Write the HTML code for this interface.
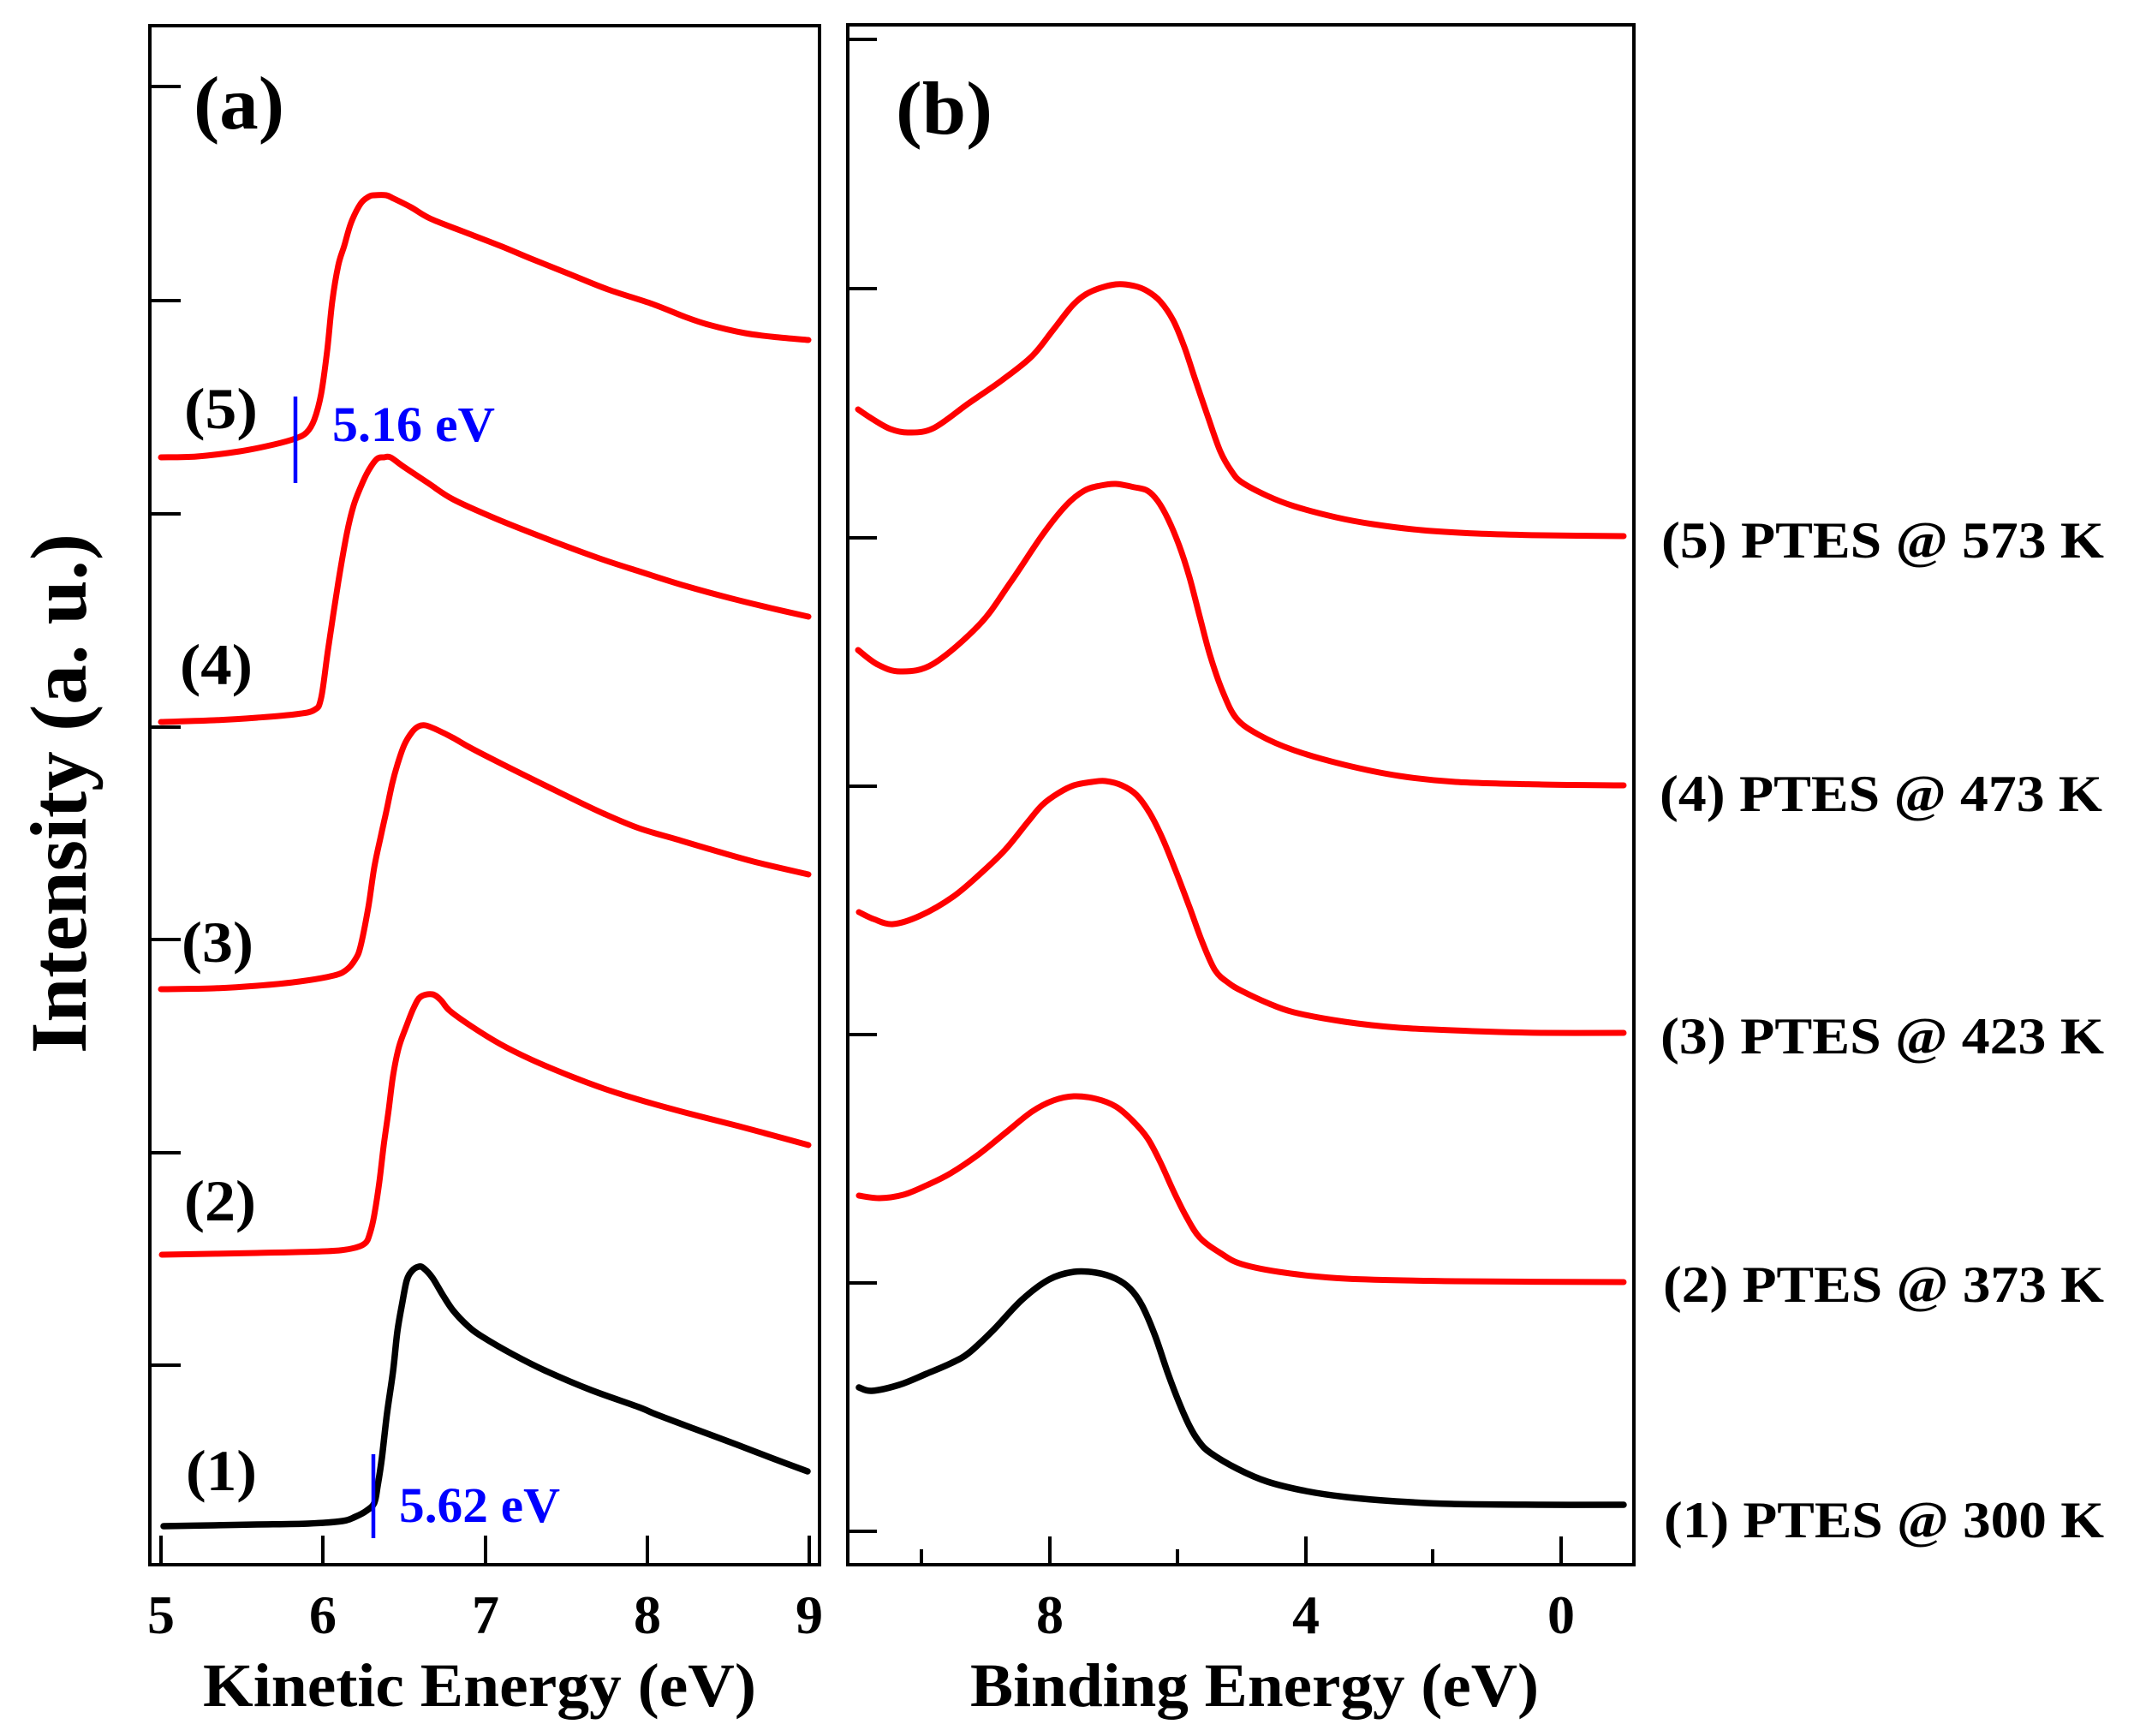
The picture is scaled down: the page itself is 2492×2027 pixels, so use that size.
<!DOCTYPE html>
<html>
<head>
<meta charset="utf-8">
<style>
  html,body{margin:0;padding:0;background:#fff;}
  svg{display:block;}
  text{font-family:"Liberation Serif","Times New Roman",serif;font-weight:bold;}
</style>
</head>
<body>
<svg id="chart" width="2492" height="2027" viewBox="0 0 2492 2027" xmlns="http://www.w3.org/2000/svg">
<rect width="2492" height="2027" fill="#fff"/>

<!-- Panel frames -->
<rect x="175" y="30" width="782" height="1797" fill="none" stroke="#000" stroke-width="4"/>
<rect x="990" y="29" width="918" height="1798" fill="none" stroke="#000" stroke-width="4"/>

<g stroke="#000" stroke-width="4">
  <line x1="175" y1="101" x2="211" y2="101"/>
  <line x1="175" y1="351" x2="211" y2="351"/>
  <line x1="175" y1="600" x2="211" y2="600"/>
  <line x1="175" y1="849" x2="211" y2="849"/>
  <line x1="175" y1="1097" x2="211" y2="1097"/>
  <line x1="175" y1="1346" x2="211" y2="1346"/>
  <line x1="175" y1="1594" x2="211" y2="1594"/>
  <line x1="188" y1="1827" x2="188" y2="1793"/>
  <line x1="377" y1="1827" x2="377" y2="1793"/>
  <line x1="567" y1="1827" x2="567" y2="1793"/>
  <line x1="756" y1="1827" x2="756" y2="1793"/>
  <line x1="945" y1="1827" x2="945" y2="1793"/>
  <line x1="990" y1="46" x2="1024" y2="46"/>
  <line x1="990" y1="337" x2="1024" y2="337"/>
  <line x1="990" y1="628" x2="1024" y2="628"/>
  <line x1="990" y1="918" x2="1024" y2="918"/>
  <line x1="990" y1="1208" x2="1024" y2="1208"/>
  <line x1="990" y1="1498" x2="1024" y2="1498"/>
  <line x1="990" y1="1788" x2="1024" y2="1788"/>
  <line x1="1226" y1="1827" x2="1226" y2="1794"/>
  <line x1="1525" y1="1827" x2="1525" y2="1794"/>
  <line x1="1823" y1="1827" x2="1823" y2="1794"/>
  <line x1="1076" y1="1827" x2="1076" y2="1809"/>
  <line x1="1375" y1="1827" x2="1375" y2="1809"/>
  <line x1="1673" y1="1827" x2="1673" y2="1809"/>
</g>

<g fill="none" stroke-width="7" stroke-linejoin="round" stroke-linecap="round">
<polyline class="s" stroke="#ff0000" points="188,534 230,533 280,527 320,519 345,512 358,505 367,490 375,460 382,410 388,352 395,310 402,287 410,260 421,238 430,230 437,228 451,228 460,232 480,242 502,255 540,270 584,287 620,302 665,320 710,338 762,355 800,370 827,379 870,389 910,394 944,397"/>
<polyline class="s" stroke="#ff0000" points="188,843 250,841 300,838 345,834 367,829 375,815 383,759 395,680 405,623 413,590 421,569 430,550 440,536 448,534 456,534 470,544 500,564 529,583 580,606 638,629 700,652 746,667 800,684 855,699 900,710 944,720"/>
<polyline class="s" stroke="#ff0000" points="188,1155 250,1154 300,1151 350,1146 390,1139 405,1132 415,1120 421,1105 430,1060 437,1013 445,975 451,948 458,915 464,893 472,870 481,855 489,848 497,847 510,852 530,862 551,874 600,899 665,931 705,950 746,967 790,980 827,991 880,1006 944,1021"/>
<polyline class="s" stroke="#ff0000" points="189,1465 300,1463 380,1461 410,1458 426,1452 432,1440 437,1419 443,1380 448,1338 454,1295 459,1256 466,1222 475,1197 483,1177 491,1164 505,1161 515,1168 525,1180 550,1198 584,1219 620,1237 665,1256 705,1271 746,1284 800,1299 855,1313 900,1325 944,1337"/>
<polyline class="s" stroke="#000000" stroke-width="7.5" points="191,1782 250,1781 300,1780 360,1779 400,1776 415,1771 428,1764 437,1755 441,1735 446,1702 452,1650 459,1601 464,1555 470,1520 475,1495 481,1484 489,1479 495,1481 505,1492 517,1512 529,1530 545,1547 562,1560 600,1582 638,1601 690,1623 746,1643 765,1651 810,1668 861,1687 900,1702 943,1718"/>
</g>

<g fill="none" stroke-width="7" stroke-linejoin="round" stroke-linecap="round">
<polyline class="s" stroke="#ff0000" points="1002,478 1020,490 1040,501 1061,505 1090,500 1131,471 1170,444 1205,416 1230,385 1254,355 1275,340 1303,332 1325,334 1340,340 1355,352 1370,374 1383,405 1395,441 1410,485 1425,527 1438,550 1450,563 1480,579 1511,591 1560,604 1603,612 1660,619 1725,623 1800,625 1896,626"/>
<polyline class="s" stroke="#ff0000" points="1002,759 1025,776 1052,784 1090,775 1144,729 1180,680 1217,625 1245,590 1266,573 1285,567 1303,565 1325,569 1340,573 1352,585 1364,606 1377,637 1389,674 1401,720 1413,765 1428,808 1444,839 1470,858 1511,876 1570,893 1634,906 1700,913 1800,916 1896,917"/>
<polyline class="s" stroke="#ff0000" points="1003,1065 1020,1073 1043,1079 1075,1069 1113,1047 1145,1020 1174,992 1200,960 1217,940 1236,926 1254,917 1275,913 1291,912 1310,917 1327,928 1343,950 1358,980 1373,1017 1389,1059 1404,1100 1419,1133 1435,1148 1450,1157 1480,1171 1511,1182 1570,1193 1634,1200 1720,1204 1800,1206 1896,1206"/>
<polyline class="s" stroke="#ff0000" points="1003,1396 1027,1399 1055,1395 1082,1384 1110,1370 1144,1347 1175,1322 1205,1298 1230,1285 1254,1280 1280,1283 1303,1292 1322,1308 1340,1329 1355,1357 1370,1390 1385,1420 1401,1445 1425,1463 1450,1476 1500,1486 1572,1493 1700,1496 1896,1497"/>
<polyline class="s" stroke="#000000" stroke-width="7.5" points="1003,1620 1018,1624 1050,1617 1082,1604 1110,1592 1131,1580 1160,1553 1193,1518 1225,1494 1254,1485 1280,1486 1303,1493 1320,1505 1334,1525 1349,1560 1364,1604 1377,1638 1389,1665 1400,1683 1413,1696 1445,1715 1480,1730 1525,1741 1572,1748 1630,1753 1695,1756 1800,1757 1896,1757"/>
</g>

<g stroke="#0000ff" stroke-width="4.5">
  <line x1="345" y1="463" x2="345" y2="564"/>
  <line x1="436" y1="1698" x2="436" y2="1796"/>
</g>
<text x="388" y="515" font-size="58" fill="#0000ff" textLength="190" lengthAdjust="spacingAndGlyphs">5.16 eV</text>
<text x="466" y="1777" font-size="58" fill="#0000ff" textLength="188" lengthAdjust="spacingAndGlyphs">5.62 eV</text>

<text x="226" y="150" font-size="88" fill="#000" textLength="106" lengthAdjust="spacingAndGlyphs">(a)</text>
<text x="1046" y="156" font-size="88" fill="#000" textLength="113" lengthAdjust="spacingAndGlyphs">(b)</text>

<g font-size="68" fill="#000">
  <text x="215" y="500" textLength="86" lengthAdjust="spacingAndGlyphs">(5)</text>
  <text x="210" y="799" textLength="85" lengthAdjust="spacingAndGlyphs">(4)</text>
  <text x="212" y="1123" textLength="84" lengthAdjust="spacingAndGlyphs">(3)</text>
  <text x="215" y="1425" textLength="84" lengthAdjust="spacingAndGlyphs">(2)</text>
  <text x="217" y="1740" textLength="83" lengthAdjust="spacingAndGlyphs">(1)</text>
</g>

<g font-size="60" fill="#000">
  <text x="1940" y="651" textLength="517" lengthAdjust="spacingAndGlyphs">(5) PTES @ 573 K</text>
  <text x="1938" y="947" textLength="517" lengthAdjust="spacingAndGlyphs">(4) PTES @ 473 K</text>
  <text x="1939" y="1230" textLength="518" lengthAdjust="spacingAndGlyphs">(3) PTES @ 423 K</text>
  <text x="1942" y="1520" textLength="515" lengthAdjust="spacingAndGlyphs">(2) PTES @ 373 K</text>
  <text x="1943" y="1795" textLength="514" lengthAdjust="spacingAndGlyphs">(1) PTES @ 300 K</text>
</g>

<g font-size="64" fill="#000" text-anchor="middle">
  <text x="188" y="1907">5</text>
  <text x="377" y="1907">6</text>
  <text x="567" y="1907">7</text>
  <text x="756" y="1907">8</text>
  <text x="945" y="1907">9</text>
  <text x="1226" y="1907">8</text>
  <text x="1525" y="1907">4</text>
  <text x="1823" y="1907">0</text>
</g>

<text x="237" y="1992" font-size="72" fill="#000" textLength="646" lengthAdjust="spacingAndGlyphs">Kinetic Energy (eV)</text>
<text x="1133" y="1992" font-size="72" fill="#000" textLength="664" lengthAdjust="spacingAndGlyphs">Binding Energy (eV)</text>
<text transform="translate(100,1230) rotate(-90)" x="0" y="0" font-size="93" fill="#000" textLength="607" lengthAdjust="spacingAndGlyphs">Intensity (a. u.)</text>
</svg>
<script>
(function(){
  var NS="http://www.w3.org/2000/svg";
  var pls=document.querySelectorAll("polyline.s");
  for(var k=0;k<pls.length;k++){
    var pl=pls[k];
    var raw=pl.getAttribute("points").trim().split(/\s+/);
    var p=raw.map(function(s){var a=s.split(",");return [parseFloat(a[0]),parseFloat(a[1])];});
    var d="M"+p[0][0]+","+p[0][1];
    for(var i=0;i<p.length-1;i++){
      var p0=p[i>0?i-1:i],p1=p[i],p2=p[i+1],p3=p[i+2<p.length?i+2:i+1];
      var c1x=p1[0]+(p2[0]-p0[0])/6,c1y=p1[1]+(p2[1]-p0[1])/6;
      var c2x=p2[0]-(p3[0]-p1[0])/6,c2y=p2[1]-(p3[1]-p1[1])/6;
      d+=" C"+c1x.toFixed(1)+","+c1y.toFixed(1)+" "+c2x.toFixed(1)+","+c2y.toFixed(1)+" "+p2[0]+","+p2[1];
    }
    var path=document.createElementNS(NS,"path");
    path.setAttribute("d",d);
    path.setAttribute("stroke",pl.getAttribute("stroke"));
    if(pl.getAttribute("stroke-width"))path.setAttribute("stroke-width",pl.getAttribute("stroke-width"));
    pl.parentNode.replaceChild(path,pl);
  }
})();
</script>
</body>
</html>
